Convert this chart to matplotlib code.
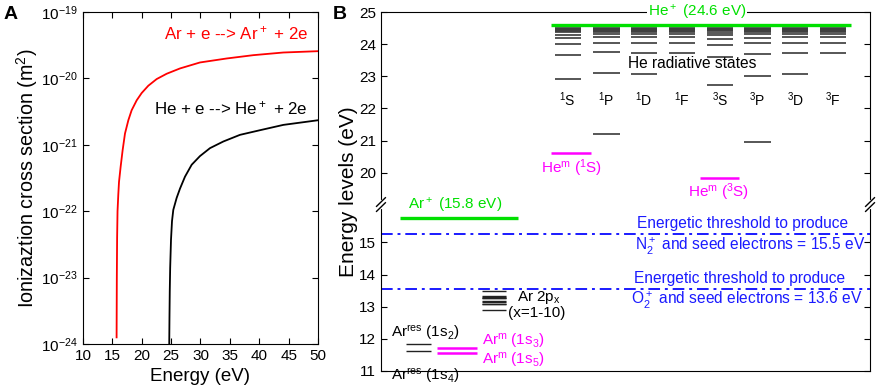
import numpy as np
import matplotlib
matplotlib.use('Agg')
import matplotlib.pyplot as plt
from matplotlib.ticker import NullLocator, FormatStrFormatter

plt.rcParams['font.family'] = ['Liberation Sans', 'DejaVu Sans']
plt.rcParams['mathtext.fontset'] = 'custom'
plt.rcParams['mathtext.rm'] = 'Liberation Sans'
plt.rcParams['mathtext.default'] = 'regular'

# ---- panel A: ionization cross sections, log10(sigma / m^2) ----
ar_energy = [15.72, 15.76, 15.81, 15.88, 16.01, 16.13, 16.41, 16.75, 17.15, 17.72,
             18.28, 19.14, 19.99, 21.12, 22.54, 24.24, 26.51, 29.91, 34.45, 38.99,
             44.09, 50.0]
ar_log_sigma = [-23.9, -23.0, -22.4, -22.0, -21.75, -21.56, -21.33, -21.08, -20.83,
                -20.63, -20.48, -20.33, -20.22, -20.11, -20.01, -19.93, -19.85,
                -19.76, -19.70, -19.65, -19.61, -19.59]
he_energy = [24.68, 24.72, 24.77, 24.84, 24.98, 25.15, 25.37, 25.94, 26.51, 27.36,
             28.50, 29.91, 31.62, 33.89, 36.72, 40.13, 44.10, 50.0]
he_log_sigma = [-24.0, -23.6, -23.2, -22.85, -22.43, -22.15, -21.98, -21.80, -21.66,
                -21.48, -21.30, -21.17, -21.05, -20.95, -20.85, -20.78, -20.70, -20.63]

# ---- panel B: energy levels (eV) ----
he_cols = ['$^1$S', '$^1$P', '$^1$D', '$^1$F', '$^3$S', '$^3$P', '$^3$D', '$^3$F']
he_1S = [22.920, 23.674, 24.011, 24.191, 24.298, 24.367, 24.414, 24.447, 24.472, 24.490]
he_1P = [21.218, 23.087, 23.742, 24.046, 24.211, 24.311, 24.375, 24.420, 24.451, 24.475, 24.493]
he_1D = [23.074, 23.736, 24.043, 24.209, 24.310, 24.375, 24.419, 24.451, 24.475, 24.493]
he_1F = [23.736, 24.043, 24.209, 24.310, 24.375, 24.419, 24.451, 24.475, 24.493]
he_3S = [22.718, 23.594, 23.972, 24.169, 24.284, 24.358, 24.407, 24.443, 24.468, 24.488]
he_3P = [20.964, 23.007, 23.708, 24.026, 24.200, 24.304, 24.371, 24.417, 24.449, 24.473, 24.491]
he_3D = [23.074, 23.736, 24.043, 24.209, 24.310, 24.375, 24.419, 24.451, 24.475, 24.493]
he_3F = [23.736, 24.043, 24.209, 24.310, 24.375, 24.419, 24.451, 24.475, 24.493]
he_levels = [he_1S, he_1P, he_1D, he_1F, he_3S, he_3P, he_3D, he_3F]
he_ion = 24.59
he_meta_1S = 20.616
he_meta_3S = 19.820
ar_ion = 15.76
ar_res = [11.828, 11.624]
ar_meta = [11.723, 11.548]
ar_2p = [12.907, 13.076, 13.095, 13.153, 13.172, 13.273, 13.283, 13.302, 13.328, 13.48]
thr_n2 = 15.27
thr_o2 = 13.56

GREEN = '#00e000'
MAGENTA = '#ff00ff'
BLUE = '#1a1aff'

fig = plt.figure(figsize=(8.79, 3.91), dpi=100)
axA = fig.add_axes([0.0944, 0.1202, 0.2674, 0.8491])
axB = fig.add_axes([0.4334, 0.0512, 0.5564, 0.9181])

# panel A
axA.semilogy(ar_energy, np.power(10.0, ar_log_sigma), color='red', lw=1.3)
axA.semilogy(he_energy, np.power(10.0, he_log_sigma), color='black', lw=1.3)
axA.set_xlim(10, 50)
axA.set_ylim(1e-24, 1e-19)
axA.set_xticks(range(10, 51, 5))
axA.yaxis.set_minor_locator(NullLocator())
axA.tick_params(direction='in', top=True, right=True, labelsize=11, length=4)
axA.set_xlabel('Energy (eV)', fontsize=13.5, labelpad=4)
axA.set_ylabel('Ionizaztion cross section (m$^2$)', fontsize=14.2, labelpad=1)
axA.text(48.3, 4.8e-20, 'Ar + e --> Ar$^+$ + 2e', color='red', fontsize=12.2,
         ha='right', va='center')
axA.text(48.3, 3.55e-21, 'He + e --> He$^+$ + 2e', color='black', fontsize=12.2,
         ha='right', va='center')

# panel B, broken y axis done with a function scale
b1, b2 = 16.18, 19.01
gap = b2 - b1


def fwd(y):
    y = np.asarray(y, dtype=float)
    return np.where(y <= b1, y, np.where(y >= b2, y - gap * 0.999, b1 + (y - b1) * 0.001))


def inv(t):
    t = np.asarray(t, dtype=float)
    tb = b1 + gap * 0.001
    return np.where(t <= b1, t, np.where(t >= tb, t + gap * 0.999, b1 + (t - b1) / 0.001))


axB.set_yscale('function', functions=(fwd, inv))
axB.set_ylim(11, 25)
axB.set_xlim(0, 100)
axB.set_yticks([11, 12, 13, 14, 15, 20, 21, 22, 23, 24, 25])
axB.yaxis.set_major_formatter(FormatStrFormatter('%d'))
axB.yaxis.set_minor_locator(NullLocator())
axB.set_xticks([])
axB.tick_params(axis='y', direction='in', right=True, labelsize=11, length=4)
axB.set_ylabel('Energy levels (eV)', fontsize=15, labelpad=1)

# helium radiative states
col_x = [38.2, 46.1, 53.8, 61.6, 69.3, 77.0, 84.7, 92.4]
for cx, lev, name in zip(col_x, he_levels, he_cols):
    axB.hlines(lev, cx - 2.7, cx + 2.7, color='#3a3a3a', lw=1.2)
    axB.text(cx, 22.27, name, fontsize=10, ha='center', va='center')
axB.text(50.5, 23.4, 'He radiative states', fontsize=11.2, ha='left', va='center')

axB.hlines(he_ion, 34.8, 96.1, color=GREEN, lw=2.4)
axB.text(64.6, 25.0, 'He$^+$ (24.6 eV)', color=GREEN, fontsize=11, ha='center',
         va='center', bbox=dict(facecolor='white', edgecolor='none', pad=0.5))
axB.hlines(he_meta_1S, 34.8, 42.9, color=MAGENTA, lw=1.8)
axB.text(39.0, 20.13, 'He$^m$ ($^1$S)', color=MAGENTA, fontsize=11, ha='center', va='center')
axB.hlines(he_meta_3S, 65.2, 73.3, color=MAGENTA, lw=1.8)
axB.text(69.1, 19.40, 'He$^m$ ($^3$S)', color=MAGENTA, fontsize=11, ha='center', va='center')

# argon
axB.hlines(ar_ion, 3.9, 28.0, color=GREEN, lw=2.4)
axB.text(15.1, 15.86, 'Ar$^+$ (15.8 eV)', color=GREEN, fontsize=11, ha='center', va='bottom')
axB.hlines(ar_res, 5.1, 10.2, color='#222222', lw=1.0)
axB.text(2.0, 12.2, 'Ar$^{res}$ (1s$_2$)', fontsize=11, ha='left', va='center')
axB.text(2.0, 10.86, 'Ar$^{res}$ (1s$_4$)', fontsize=11, ha='left', va='center')
axB.hlines(ar_meta, 11.5, 19.6, color=MAGENTA, lw=1.8)
axB.text(20.7, 11.92, 'Ar$^m$ (1s$_3$)', color=MAGENTA, fontsize=11, ha='left', va='center')
axB.text(20.7, 11.33, 'Ar$^m$ (1s$_5$)', color=MAGENTA, fontsize=11, ha='left', va='center')
axB.hlines(ar_2p, 20.6, 25.6, color='#222222', lw=1.0)
axB.text(27.8, 13.30, 'Ar 2p$_x$', fontsize=11, ha='left', va='center')
axB.text(26.0, 12.80, '(x=1-10)', fontsize=11, ha='left', va='center')

# thresholds
dashdot = (0, (6, 2.5, 1.5, 2.5))
axB.axhline(thr_n2, color=BLUE, lw=1.4, ls=dashdot)
axB.axhline(thr_o2, color=BLUE, lw=1.4, ls=dashdot)
axB.text(74.0, 15.6, 'Energetic threshold to produce', color=BLUE, fontsize=11.2,
         ha='center', va='center')
axB.text(75.5, 14.89, 'N$_2^+$ and seed electrons = 15.5 eV', color=BLUE, fontsize=11.2,
         ha='center', va='center')
axB.text(73.4, 13.89, 'Energetic threshold to produce', color=BLUE, fontsize=11.2,
         ha='center', va='center')
axB.text(74.8, 13.19, 'O$_2^+$ and seed electrons = 13.6 eV', color=BLUE, fontsize=11.2,
         ha='center', va='center')

# break marks on both spines
f = float((fwd(b1) - fwd(11)) / (fwd(25) - fwd(11)))
for xs in (0.0, 1.0):
    axB.plot([xs, xs], [f - 0.008, f + 0.008], transform=axB.transAxes, color='white',
             lw=3, clip_on=False, zorder=5)
    for dy in (-0.007, 0.007):
        axB.plot([xs - 0.009, xs + 0.009], [f + dy - 0.012, f + dy + 0.012],
                 transform=axB.transAxes, color='black', lw=1.0, clip_on=False, zorder=6)

fig.text(0.004, 0.985, 'A', fontsize=14, fontweight='bold', va='top')
fig.text(0.378, 0.985, 'B', fontsize=14, fontweight='bold', va='top')

fig.savefig('out.png', dpi=100)
